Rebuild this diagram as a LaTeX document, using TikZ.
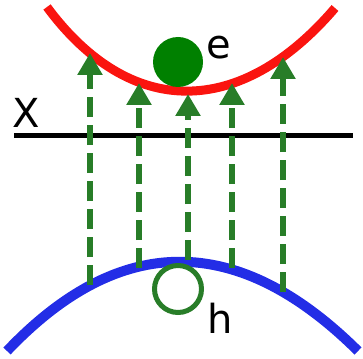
\documentclass[tikz,border=0pt]{standalone}
\usepackage{fontspec}
\setmainfont{DejaVu Sans}
\usepackage{tikz}
\usetikzlibrary{arrows.meta}

\definecolor{bandred}{RGB}{250,20,15}
\definecolor{bandblue}{RGB}{35,45,230}
\definecolor{carrier}{RGB}{40,125,40}
\definecolor{electronfill}{RGB}{0,128,0}

\begin{document}
\begin{tikzpicture}[x=1pt,y=-1pt,
  transition/.style={draw=carrier, line width=6pt, dash pattern=on 20pt off 8pt,
    -{Triangle[width=24pt,length=22pt]}},
  label/.style={font=\fontsize{40}{40}\selectfont, inner sep=0pt}]
  \useasboundingbox (0,0) rectangle (363,358);

  % Conduction band
  \draw[bandred, line width=9pt] (47,7) .. controls (130,119) and (240,119) .. (335,8);

  % Valence band
  \draw[bandblue, line width=10pt] (7,351) .. controls (120,232) and (238,232) .. (358,351);

  % Axis
  \draw[black, line width=5pt] (14,135) -- (353,135);
  \node[label] (x) at (26,113) {X};

  % Electron and hole
  \node[circle, fill=electronfill, minimum size=50pt, inner sep=0pt] (electron) at (178,62) {};
  \node[label, anchor=west] (elabel) at (206,48) {e};
  \node[circle, draw=carrier, line width=5pt, minimum size=47pt, inner sep=0pt] (hole) at (178,289) {};
  \node[label, anchor=west] (hlabel) at (207,318) {h};

  % Excitation arrows
  \coordinate (v1) at (90,285);  \coordinate (c1) at (90,53);
  \coordinate (v2) at (139,268); \coordinate (c2) at (139,83);
  \coordinate (v3) at (188,260); \coordinate (c3) at (188,94);
  \coordinate (v4) at (232,268); \coordinate (c4) at (232,83);
  \coordinate (v5) at (283,292); \coordinate (c5) at (283,57);
  \draw[transition] (v1) -- (c1);
  \draw[transition] (v2) -- (c2);
  \draw[transition] (v3) -- (c3);
  \draw[transition] (v4) -- (c4);
  \draw[transition] (v5) -- (c5);
\end{tikzpicture}
\end{document}
